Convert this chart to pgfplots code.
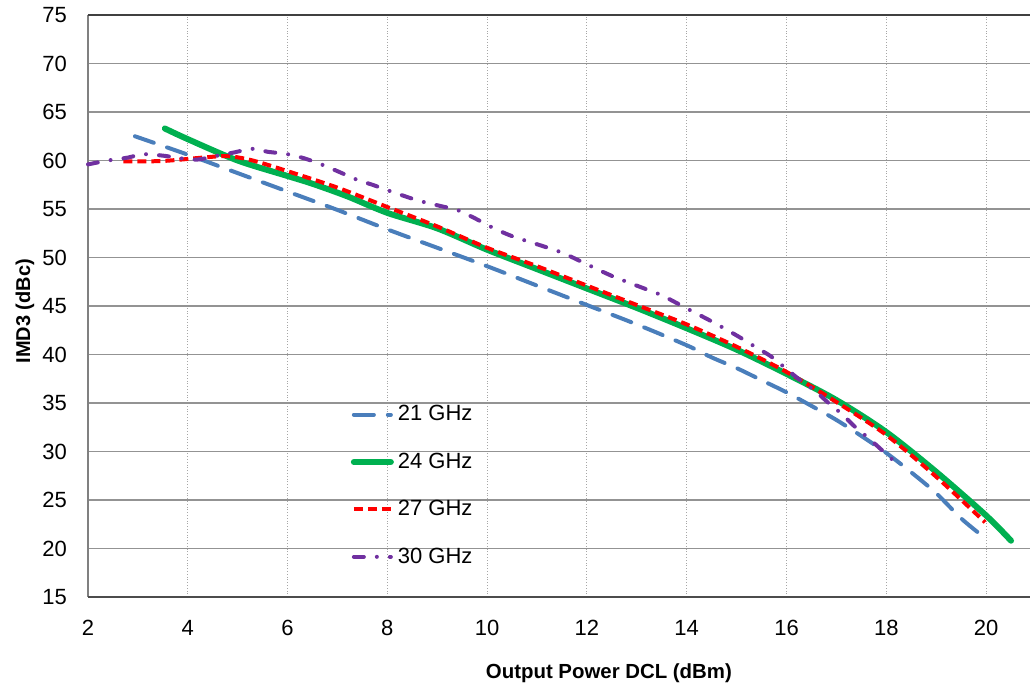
\documentclass[border=0pt]{standalone}
\usepackage{fontspec}
\setmainfont{Liberation Sans}
\usepackage{pgfplots}
\pgfplotsset{compat=1.18}
\definecolor{cBlue}{HTML}{4A7EBB}
\definecolor{cGreen}{HTML}{00B050}
\definecolor{cRed}{HTML}{FF0000}
\definecolor{cPurple}{HTML}{7030A0}
\begin{document}
\begin{tikzpicture}
\useasboundingbox (0,0) rectangle (515pt,344pt);
\begin{axis}[
  at={(44pt,45.5pt)}, anchor=south west,
  scale only axis, width=471pt, height=291pt,
  xmin=2, xmax=20.88, ymin=15, ymax=75,
  xtick={2,4,...,20}, ytick={15,20,...,75},
  axis x line*=bottom, axis y line*=left,
  axis line style={draw=gray, line width=0.6pt, -},
  major tick length=0pt,
  xmajorgrids, ymajorgrids,
  x grid style={gray!70, densely dotted, line width=0.5pt},
  y grid style={gray!85, line width=0.6pt},
  tick label style={font=\fontsize{11}{13}\selectfont},
  /pgf/number format/assume math mode=true,
  yticklabel style={xshift=-7pt},
  xticklabel style={yshift=-8pt},
  clip=false,
  legend cell align=left,
  legend style={draw=none, fill=none, at={(axis cs:7.14,35.6)}, anchor=north west,
    font=\fontsize{11}{13}\selectfont, row sep=10.5pt},
  legend image code/.code={\draw[#1] (0pt,0pt) -- (18.5pt,0pt);},
]
\addplot[cBlue, line width=2pt, line cap=round, dash pattern=on 10pt off 7pt, smooth] coordinates {
(2.94,62.5)(4,60.6)(5,58.7)(6,56.8)(7,54.9)(8,52.9)(9,51.0)(10,49.1)(11,47.1)(12,45.1)(13,43.1)(14,40.95)(14.5,39.7)(15,38.6)(15.5,37.35)(16,36.1)(16.5,34.7)(17,33.25)(17.5,31.6)(18,29.85)(18.5,27.85)(19,25.7)(19.5,23.1)(19.9,21.4)};
\addlegendentry{21 GHz}
\addplot[cGreen, line width=3pt, line cap=round, smooth] coordinates {
(3.54,63.3)(4,62.2)(5,60.0)(6,58.4)(6.5,57.6)(7.2,56.3)(8,54.6)(9,53.0)(10,50.8)(11,48.8)(12,46.8)(13,44.8)(14,42.7)(15,40.5)(16,38.0)(17,35.3)(18,32.0)(19,27.9)(20,23.4)(20.5,20.8)};
\addlegendentry{24 GHz}
\addplot[cRed, line width=2pt, dash pattern=on 4.5pt off 2.5pt, smooth] coordinates {
(2.71,59.9)(3.5,59.95)(4.3,60.3)(4.8,60.45)(5.3,60.0)(6,58.9)(7,57.2)(8,55.2)(9,53.2)(10,51.0)(11,49.1)(12,47.1)(13,45.1)(14,43.1)(15,40.8)(16,38.2)(17,35.1)(18,31.7)(19,27.4)(19.98,22.7)};
\addlegendentry{27 GHz}
\addplot[cPurple, line width=2pt, line cap=round, dash pattern=on 5pt off 6.5pt on 0pt off 6.5pt, smooth] coordinates {
(2,59.6)(2.4,60.0)(2.8,60.3)(3.1,60.65)(3.5,60.5)(3.9,60.2)(4.2,60.1)(4.6,60.5)(4.9,60.8)(5.3,61.2)(5.6,60.9)(6,60.65)(6.35,60.2)(6.7,59.55)(7.0,58.9)(7.4,58.0)(7.7,57.5)(8.05,56.85)(8.6,55.9)(9.07,55.3)(9.4,54.9)(9.77,54.0)(10.1,53.1)(10.5,52.2)(11.1,51.2)(11.5,50.5)(12.0,49.3)(12.5,48.1)(13.1,46.9)(13.5,46.1)(14.0,44.75)(14.43,43.6)(14.75,42.7)(15.07,41.75)(15.4,40.7)(15.69,39.8)(16.0,38.5)(16.25,37.45)(16.56,36.3)(16.82,35.1)(17.1,33.9)(17.36,32.6)(17.65,31.35)(17.92,30.1)(18.2,28.8)};
\addlegendentry{30 GHz}
\draw[gray!50!black, line width=1.2pt] (rel axis cs:0,1) -- (rel axis cs:1,1);
\draw[gray!60!black, line width=0.6pt] (rel axis cs:0,0) -- (rel axis cs:1,0);
\node[font=\bfseries\fontsize{10.2}{12}\selectfont] at (rel axis cs:0.553,-0.1306) {Output Power DCL (dBm)};
\node[font=\bfseries\fontsize{10}{12}\selectfont, rotate=90] at (rel axis cs:-0.0669,0.491) {IMD3 (dBc)};
\end{axis}
\end{tikzpicture}
\end{document}
